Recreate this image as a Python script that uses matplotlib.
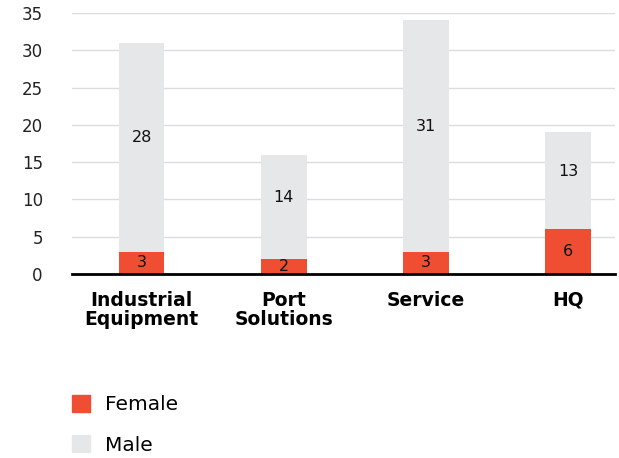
import matplotlib.pyplot as plt
from matplotlib.patches import Patch

# headcount by business unit
units = ['Industrial\nEquipment', 'Port\nSolutions', 'Service', 'HQ']
female = [3, 2, 3, 6]
male = [28, 14, 31, 13]
yticks = [0, 5, 10, 15, 20, 25, 30, 35]

red = '#f04e32'
grey = '#e6e7e8'

fig = plt.figure(figsize=(6.19, 4.58), dpi=100)
ax = fig.add_axes([0.1163, 0.4017, 0.8772, 0.5699])

x = range(len(units))
w = 0.32
ax.bar(x, female, w, color=red, zorder=2)
ax.bar(x, male, w, bottom=female, color=grey, zorder=2)

# value labels inside each segment (male ones sit a little above centre)
for i in x:
    ax.text(i, female[i] / 2, str(female[i]), ha='center', va='center', fontsize=11.5, color='#111111', zorder=3)
    ax.text(i, female[i] + male[i] / 2 + 1.3, str(male[i]), ha='center', va='center', fontsize=11.5,
            color='#111111', zorder=3)

ax.set_xlim(-0.49, 3.33)
ax.set_ylim(0, 35)
ax.set_yticks(yticks)
ax.set_xticks(list(x))
ax.set_xticklabels(units, fontsize=13.5, fontweight='bold', linespacing=1.0)
ax.tick_params(axis='y', length=0, labelsize=12, pad=21, colors='#222222')
ax.tick_params(axis='x', length=0, pad=12)

ax.grid(axis='y', color='#dcdcdc', linewidth=1, zorder=0)
for s in ['top', 'right', 'left']:
    ax.spines[s].set_visible(False)
ax.spines['bottom'].set_linewidth(2)
ax.spines['bottom'].set_color('black')
ax.spines['bottom'].set_zorder(4)

handles = [Patch(color=red), Patch(color=grey)]
fig.legend(handles, ['Female', 'Male'], loc='upper left', bbox_to_anchor=(0.1163, 0.138),
           frameon=False, fontsize=14.5, handlelength=0.9, handleheight=0.9,
           handletextpad=0.75, labelspacing=1.05, borderpad=0, borderaxespad=0,
           bbox_transform=fig.transFigure)

fig.savefig('out.png', dpi=100)
